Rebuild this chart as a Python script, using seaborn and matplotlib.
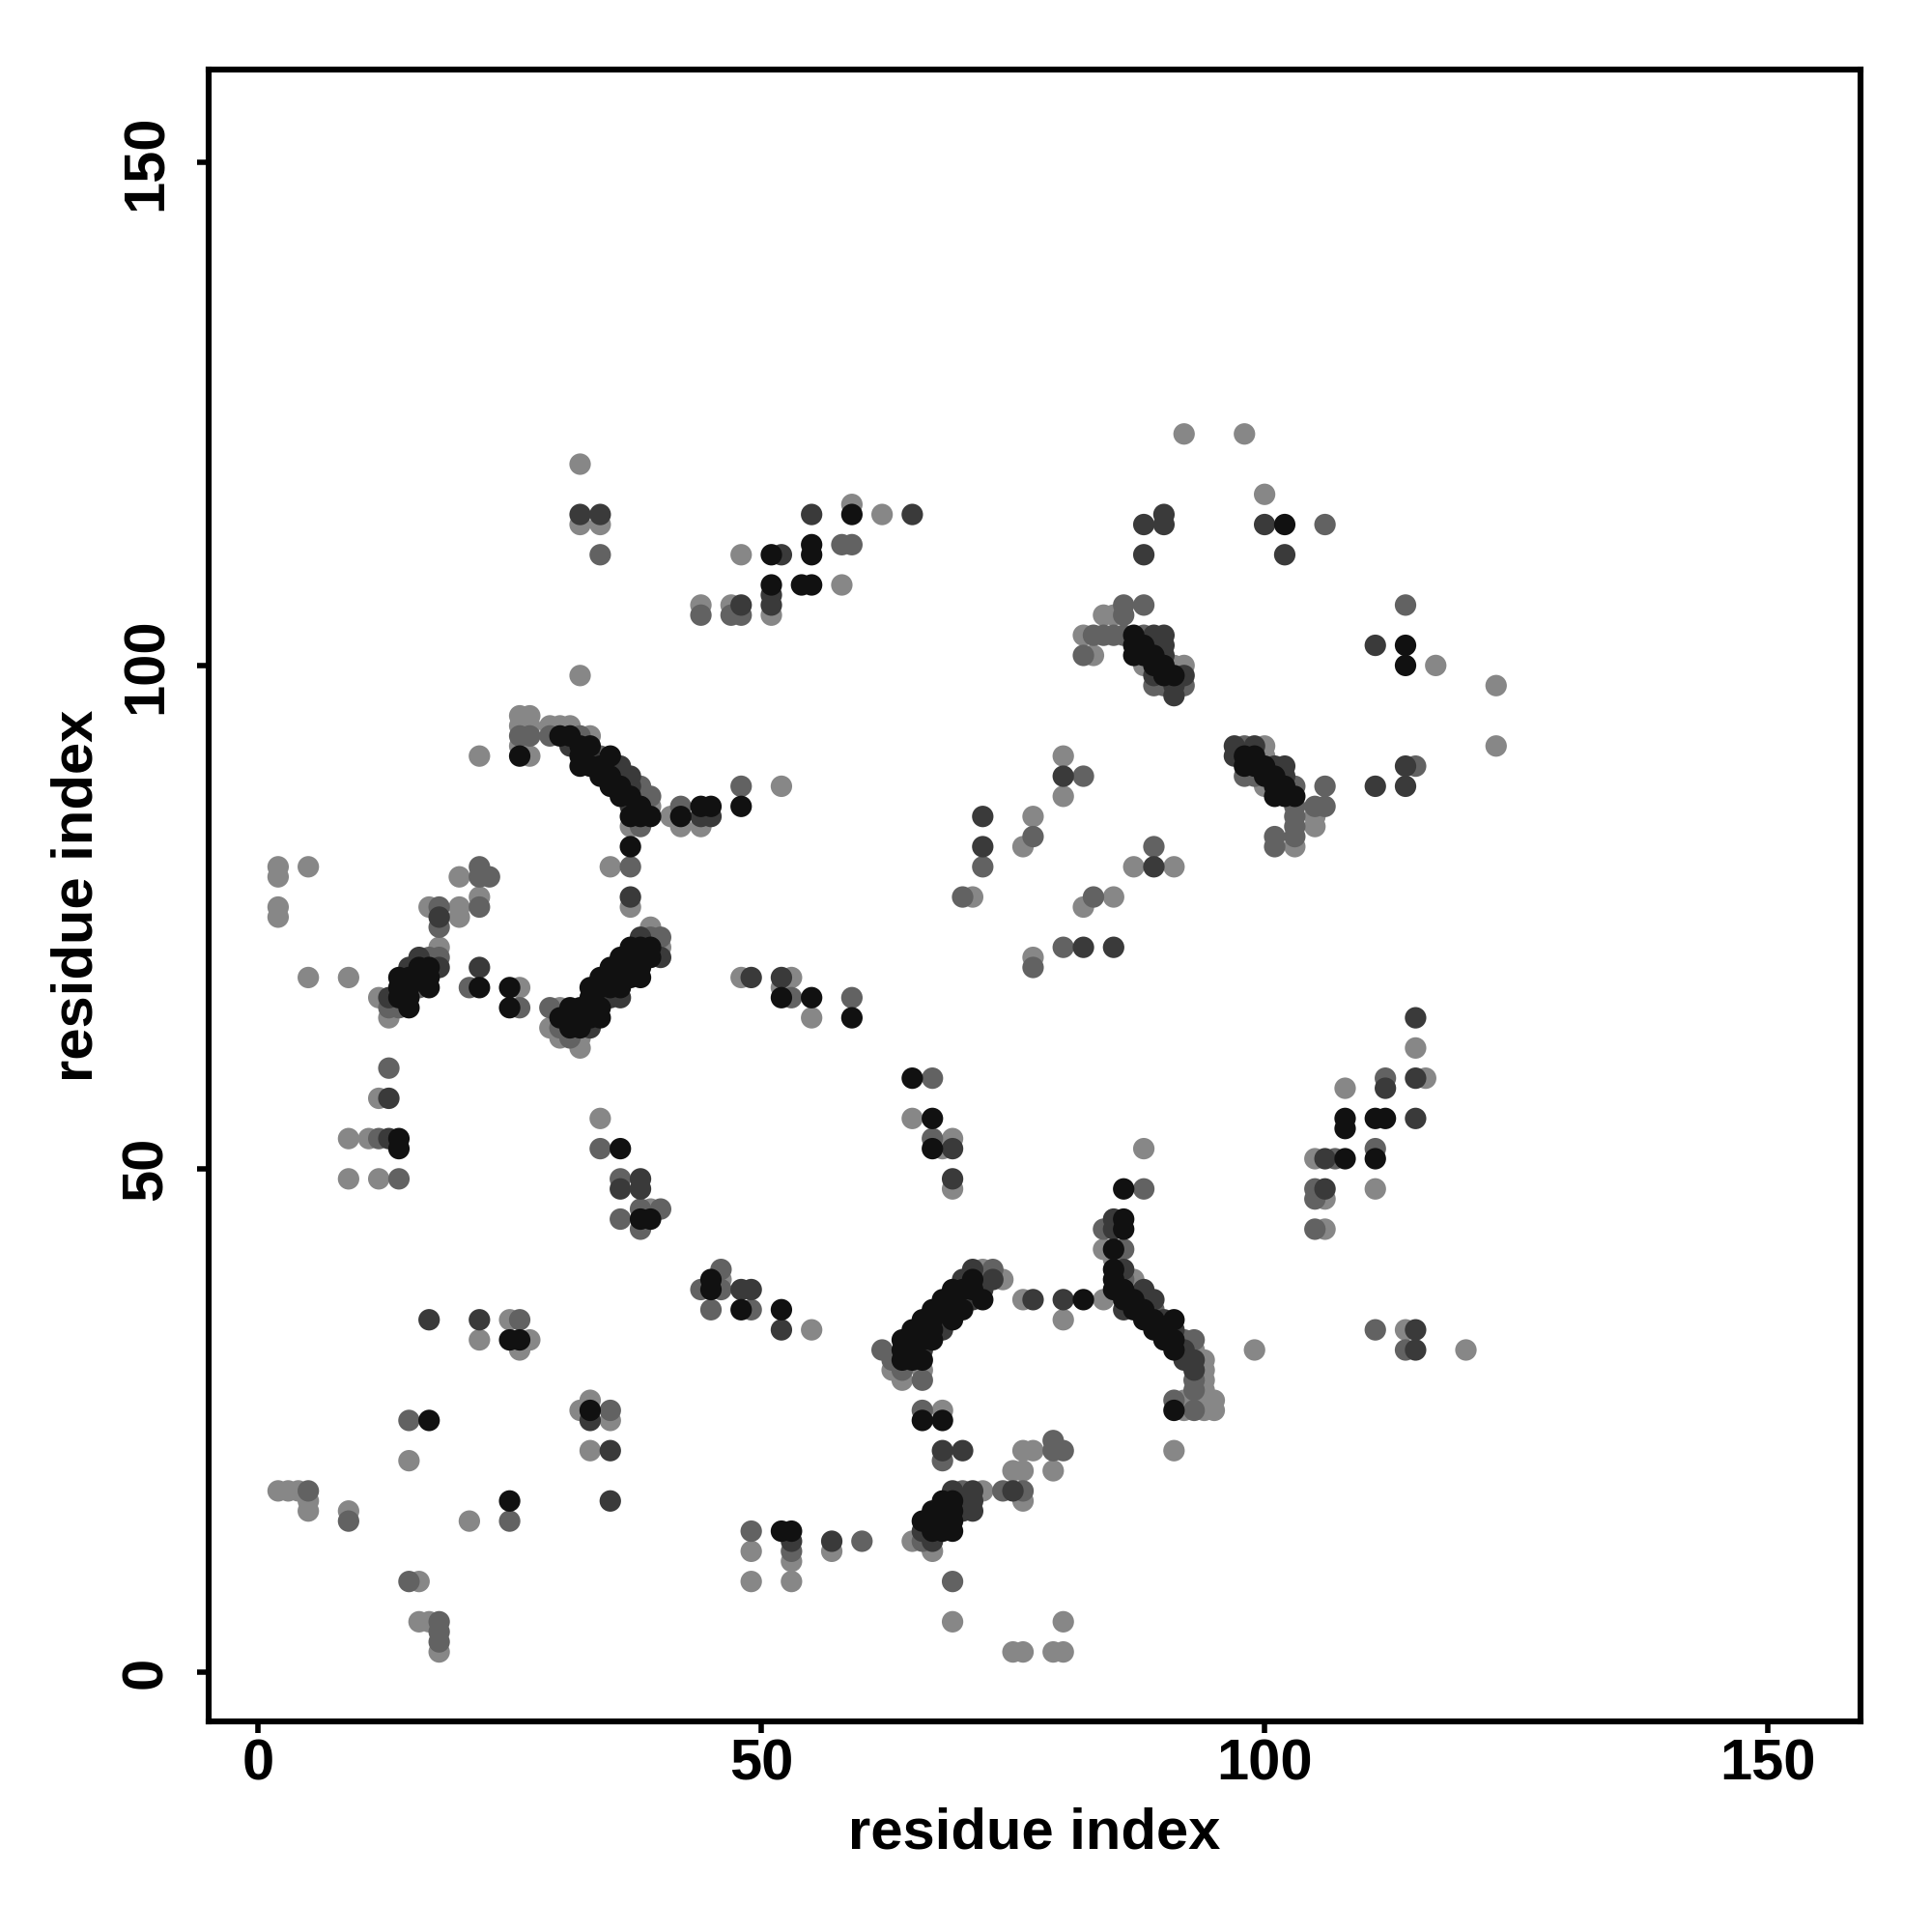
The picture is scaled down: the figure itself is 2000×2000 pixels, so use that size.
import matplotlib
matplotlib.use("Agg")
import matplotlib.pyplot as plt
import seaborn as sns
import pandas as pd

# contact map, residue pairs (x, y) grouped by grey shade
light_pts = [
    (32, 120), (32, 114), (34, 114), (48, 111), (59, 116), (62, 115), (51, 105), (58, 108),
    (44, 106), (47, 106), (32, 99), (22, 91),
    (26, 95), (27, 95), (26, 94), (27, 94), (29, 94), (30, 94), (31, 94), (33, 93), (26, 92),
    (27, 91), (38, 87), (39, 86), (41, 85), (37, 84), (42, 84), (44, 84), (52, 88),
    (2, 80), (2, 79), (5, 80), (2, 76), (2, 75), (20, 79), (22, 77), (20, 76), (20, 75),
    (17, 76), (18, 72), (12, 67), (13, 65), (5, 69), (9, 69), (26, 68),
    (39, 74), (40, 72), (30, 66), (29, 64), (30, 63), (32, 63), (32, 62),
    (35, 80), (37, 76), (12, 57), (9, 53), (11, 53), (9, 49), (12, 49),
    (48, 69), (53, 69), (52, 68), (55, 65), (34, 55), (39, 46),
    (92, 123), (98, 123), (100, 117), (84, 105), (85, 105),
    (82, 103), (83, 101), (88, 100), (91, 100), (92, 100),
    (117, 100), (123, 98), (123, 92),
    (100, 92), (100, 91), (100, 88), (105, 85), (105, 84), (103, 82),
    (80, 91), (80, 87), (77, 85), (76, 82), (71, 77), (87, 80), (91, 80), (85, 77), (82, 76), (77, 71),
    (115, 62), (116, 59), (108, 58), (105, 51), (106, 47), (106, 44), (111, 48),
    (65, 55), (69, 53), (68, 52), (69, 48), (88, 52), (84, 42), (85, 41),
    (87, 39), (87, 38), (93, 32), (94, 31), (94, 30), (94, 29), (94, 28), (92, 27), (93, 27),
    (94, 27), (95, 27), (92, 26), (94, 26), (95, 26),
    (72, 40), (74, 39), (63, 30), (66, 30), (64, 29),
    (76, 37), (84, 37), (80, 35), (68, 26), (76, 22), (77, 22), (75, 20), (76, 20), (79, 20),
    (72, 18), (76, 17), (65, 13), (67, 12), (69, 5), (80, 5), (75, 2), (76, 2), (79, 2), (80, 2),
    (91, 22), (114, 34), (99, 32), (120, 32),
    (22, 33), (25, 35), (27, 33), (26, 32), (15, 21), (2, 18), (3, 18), (4, 18), (5, 17), (5, 16),
    (9, 16), (21, 15), (16, 9), (16, 5), (17, 5), (18, 2),
    (46, 39), (55, 34), (32, 26), (33, 27), (35, 25), (33, 22), (49, 12), (49, 9), (53, 11),
    (53, 9), (57, 12),
]

medium_pts = [
    (34, 111), (58, 112), (59, 112), (44, 105), (47, 105), (48, 105),
    (26, 93), (27, 93), (29, 93), (32, 93), (34, 91), (36, 89), (38, 88), (39, 87), (38, 84),
    (42, 86), (48, 88),
    (22, 80), (22, 79), (23, 79), (22, 76), (18, 76), (18, 74),
    (17, 71), (18, 71), (16, 68), (13, 66), (14, 66), (21, 68), (26, 66),
    (39, 73), (40, 73), (36, 69), (34, 67), (29, 66), (30, 64), (31, 63),
    (37, 80), (13, 60), (12, 53), (14, 49), (53, 67), (59, 67),
    (34, 52), (36, 49), (38, 46), (40, 46), (36, 45), (38, 44),
    (106, 114), (86, 106), (88, 106), (86, 105),
    (83, 103), (84, 103), (85, 103), (86, 103), (88, 103), (82, 101), (89, 98), (90, 98), (92, 98),
    (114, 106), (115, 90), (106, 88),
    (98, 92), (98, 89), (99, 89), (103, 88), (103, 86), (105, 86), (106, 86), (103, 85),
    (103, 84), (101, 83), (103, 83), (101, 82),
    (82, 89), (77, 83), (72, 80), (70, 77), (89, 82), (83, 77), (80, 72), (77, 70),
    (112, 59), (111, 52), (107, 51), (105, 48), (105, 47), (105, 44),
    (67, 59), (67, 53), (88, 48), (84, 44), (86, 42),
    (86, 39), (89, 36), (92, 33), (93, 33), (93, 29), (93, 28), (91, 27), (93, 26),
    (73, 40), (72, 39), (70, 37), (68, 35), (62, 32), (63, 31), (64, 30), (66, 29),
    (66, 26), (68, 21), (79, 23), (79, 22), (80, 22), (70, 18), (74, 18), (76, 18), (66, 13), (69, 9),
    (111, 34), (114, 32),
    (26, 35), (15, 25), (5, 18), (9, 15), (25, 15), (15, 9), (18, 5), (18, 4), (18, 3),
    (46, 40), (44, 38), (46, 38), (45, 36), (49, 36), (35, 26), (49, 14), (53, 12), (60, 13),
]

dark_pts = [
    (32, 115), (34, 115), (52, 111), (55, 115), (51, 107), (51, 106), (48, 106),
    (31, 92), (33, 91), (35, 90), (36, 90), (37, 89), (37, 88), (37, 86), (44, 85), (45, 85),
    (18, 75), (16, 71), (15, 70), (18, 70), (13, 67), (22, 70),
    (38, 73), (40, 71), (35, 67), (36, 67), (32, 65), (33, 64),
    (37, 77), (13, 57), (13, 53), (49, 69), (52, 69), (38, 49), (36, 48), (38, 48),
    (65, 115), (90, 115), (90, 114), (88, 114), (88, 111), (100, 114), (102, 111),
    (89, 103), (90, 103), (89, 102), (90, 102), (90, 101), (89, 99), (92, 99), (91, 98), (91, 97),
    (111, 102), (114, 90), (111, 88), (114, 88),
    (97, 92), (99, 92), (97, 91), (101, 90), (102, 90), (102, 89),
    (80, 89), (72, 85), (72, 82), (89, 80), (82, 72), (85, 72),
    (115, 65), (115, 59), (112, 58), (115, 55), (106, 51), (106, 48),
    (69, 52), (69, 49), (85, 45), (85, 44),
    (86, 40), (88, 38), (88, 37), (89, 37), (86, 36), (90, 35), (91, 34), (92, 32), (92, 31),
    (93, 31), (93, 30),
    (71, 40), (70, 39), (73, 39), (72, 38), (71, 37), (69, 36), (68, 34), (65, 33), (66, 32),
    (77, 37), (80, 37), (68, 22), (70, 22), (71, 18), (75, 18), (69, 18), (70, 17), (71, 17),
    (70, 16), (71, 16), (66, 14), (67, 13), (57, 13),
    (115, 34), (115, 32),
    (17, 35), (22, 35), (33, 25), (35, 22), (35, 17),
    (48, 38), (49, 38), (52, 34), (53, 13),
]

black_pts = [
    (51, 111), (55, 112), (55, 111), (59, 115), (51, 108), (54, 108), (55, 108),
    (30, 93), (31, 93), (32, 92), (33, 92), (26, 91), (32, 91), (35, 91), (32, 90), (33, 90),
    (34, 90), (34, 89), (35, 89), (35, 88), (36, 88), (36, 87), (37, 87), (38, 86), (37, 85),
    (38, 85), (39, 85), (42, 85), (44, 86), (45, 86), (48, 86),
    (16, 70), (17, 70), (14, 69), (15, 69), (16, 69), (17, 69), (14, 68), (15, 68), (17, 68),
    (14, 67), (15, 67), (15, 66), (22, 68), (25, 68), (25, 66),
    (37, 72), (38, 72), (39, 72), (36, 71), (37, 71), (38, 71), (39, 71), (35, 70), (36, 70),
    (37, 70), (38, 70), (34, 69), (35, 69), (37, 69), (38, 69), (33, 68), (34, 68), (35, 68),
    (36, 68), (33, 67), (31, 66), (32, 66), (33, 66), (34, 66), (30, 65), (31, 65), (33, 65),
    (34, 65), (31, 64), (32, 64),
    (37, 82), (14, 53), (14, 52), (52, 67), (55, 67), (59, 65), (36, 52), (38, 45), (39, 45),
    (102, 114),
    (87, 103), (87, 102), (88, 102), (87, 101), (88, 101), (89, 101), (89, 100), (90, 100),
    (90, 99), (91, 99), (114, 102), (114, 100),
    (98, 91), (99, 91), (98, 90), (99, 90), (100, 90), (100, 89), (101, 89), (101, 88),
    (102, 88), (101, 87), (102, 87), (103, 87),
    (108, 55), (108, 54), (111, 55), (112, 55), (111, 51), (108, 51),
    (65, 59), (67, 55), (67, 52), (86, 48), (86, 45), (86, 44), (85, 42),
    (85, 40), (85, 39), (85, 38), (86, 38), (86, 37), (87, 37), (87, 36), (88, 36), (88, 35),
    (89, 35), (91, 35), (89, 34), (90, 34), (90, 33), (91, 33), (91, 32), (91, 26),
    (71, 39), (69, 38), (70, 38), (71, 38), (68, 37), (69, 37), (72, 37), (67, 36), (68, 36),
    (70, 36), (66, 35), (67, 35), (69, 35), (65, 34), (66, 34), (67, 34), (64, 33), (66, 33),
    (67, 33), (64, 32), (65, 32), (64, 31), (65, 31), (66, 31),
    (82, 37), (66, 25), (68, 25),
    (68, 17), (69, 17), (67, 16), (68, 16), (69, 16), (66, 15), (67, 15), (68, 15), (69, 15),
    (67, 14), (68, 14), (69, 14),
    (25, 33), (26, 33), (17, 25), (25, 17),
    (45, 39), (45, 38), (48, 36), (52, 36), (33, 26), (52, 14), (53, 14),
]

shade_order = ["light", "medium", "dark", "black"]
shade_colors = {"light": "#878787", "medium": "#626262", "dark": "#3a3a3a", "black": "#111111"}

# build one long table, lighter points drawn first
frames = []
for name, pts in zip(shade_order, [light_pts, medium_pts, dark_pts, black_pts]):
    df = pd.DataFrame(pts, columns=["i", "j"])
    df["shade"] = name
    frames.append(df)
contacts = pd.concat(frames, ignore_index=True)

sns.set_style("white")
plt.rcParams["font.family"] = ["Liberation Sans", "DejaVu Sans"]
plt.rcParams["font.weight"] = "bold"
plt.rcParams["text.color"] = "black"
plt.rcParams["axes.labelcolor"] = "black"
plt.rcParams["xtick.color"] = "black"
plt.rcParams["ytick.color"] = "black"

fig = plt.figure(figsize=(10, 10), dpi=200)
ax = fig.add_axes([0.108, 0.109, 0.855, 0.855])

sns.scatterplot(
    data=contacts,
    x="i",
    y="j",
    hue="shade",
    hue_order=shade_order,
    palette=shade_colors,
    s=64,
    linewidth=0,
    legend=False,
    ax=ax,
)

ax.set_xlim(-4.9, 159.2)
ax.set_ylim(-4.9, 159.2)
ticks = [0, 50, 100, 150]
ax.set_xticks(ticks)
ax.set_yticks(ticks)
ax.set_xticklabels([str(t) for t in ticks], fontsize=21.5, fontweight="bold", color="black")
ax.set_yticklabels([str(t) for t in ticks], fontsize=21.5, fontweight="bold", color="black",
                   rotation=90, va="center")
ax.tick_params(axis="both", direction="out", length=4.2, width=2, color="black",
               bottom=True, left=True)
ax.tick_params(axis="x", pad=2)
ax.tick_params(axis="y", pad=9)

for side in ["left", "right", "top", "bottom"]:
    ax.spines[side].set_visible(True)
    ax.spines[side].set_color("black")
    ax.spines[side].set_linewidth(2.2)

ax.set_xlabel("residue index", fontsize=21.5, fontweight="bold", labelpad=6, color="black")
ax.set_ylabel("residue index", fontsize=21.5, fontweight="bold", labelpad=6, color="black")

fig.savefig("out.png", dpi=200, facecolor="white")
